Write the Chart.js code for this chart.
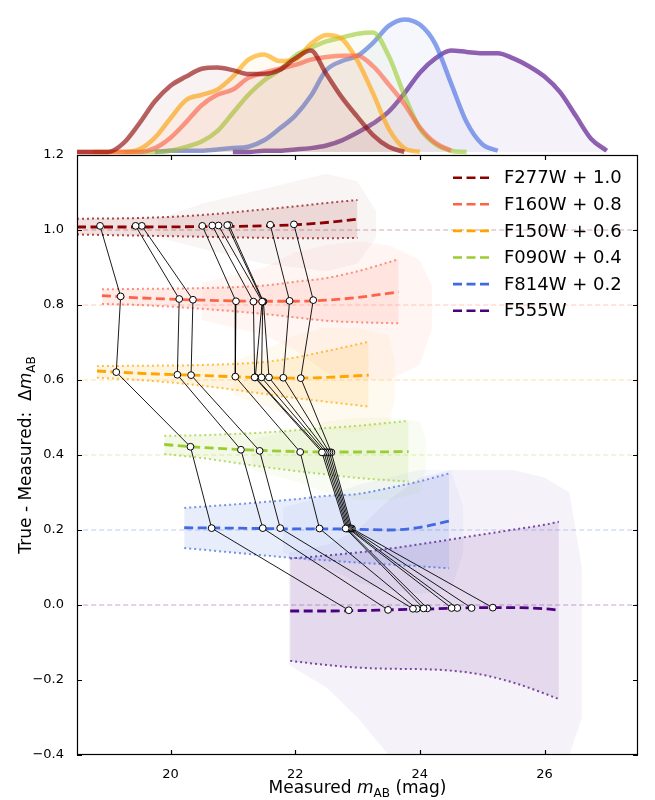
<!DOCTYPE html>
<html>
<head>
<meta charset="utf-8">
<script src="https://cdn.jsdelivr.net/npm/chart.js@4.4.0/dist/chart.umd.min.js"></script>
<style>
  body { margin: 0; background: #fff; }
  #wrap { position: relative; width: 655px; height: 800px; }
  canvas { position: absolute; left: 0; top: 0; }
</style>
</head>
<body>
<div id="wrap">
  <canvas id="main-chart" width="655" height="800"></canvas>
  <canvas id="kde-chart" width="655" height="155"></canvas>
</div>
<script>
const filters = ['F277W', 'F160W', 'F150W', 'F090W', 'F814W', 'F555W'];
const offsets = [1.0, 0.8, 0.6, 0.4, 0.2, 0.0];
const legendLabels = ['F277W + 1.0', 'F160W + 0.8', 'F150W + 0.6', 'F090W + 0.4', 'F814W + 0.2', 'F555W'];
const magTicks = [20, 22, 24, 26];
const deltaTicks = [-0.4, -0.2, 0.0, 0.2, 0.4, 0.6, 0.8, 1.0, 1.2];
const refSpan = [18.6, 27.5];

// running median of True - Measured and the scatter envelope (offset not included)
const binMag277 = [18.5, 19.5, 20.5, 21.5, 22.0, 22.5, 23.0];
const med277 = [0.008, 0.008, 0.009, 0.011, 0.014, 0.020, 0.029];
const hi277 = [0.030, 0.032, 0.040, 0.055, 0.063, 0.072, 0.080];
const lo277 = [-0.012, -0.015, -0.018, -0.021, -0.022, -0.022, -0.021];

const binMag160 = [18.9, 19.5, 20.5, 21.5, 22.0, 22.5, 23.0, 23.66];
const med160 = [0.025, 0.019, 0.013, 0.010, 0.010, 0.013, 0.020, 0.035];
const hi160 = [0.042, 0.043, 0.045, 0.052, 0.062, 0.072, 0.090, 0.122];
const lo160 = [0.003, 0.000, -0.010, -0.024, -0.033, -0.042, -0.046, -0.049];

const binMag150 = [18.82, 19.5, 20.5, 21.5, 22.0, 22.5, 23.18];
const med150 = [0.024, 0.018, 0.012, 0.006, 0.005, 0.007, 0.013];
const hi150 = [0.037, 0.038, 0.040, 0.048, 0.060, 0.077, 0.102];
const lo150 = [0.006, 0.000, -0.015, -0.037, -0.048, -0.058, -0.071];

const binMag090 = [19.9, 20.5, 21.5, 22.5, 23.0, 23.82];
const med090 = [0.028, 0.020, 0.012, 0.008, 0.008, 0.009];
const hi090 = [0.051, 0.053, 0.060, 0.072, 0.078, 0.091];
const lo090 = [0.003, -0.008, -0.032, -0.052, -0.061, -0.071];

const binMag814 = [20.22, 21.0, 22.0, 22.5, 23.0, 23.5, 24.0, 24.47];
const med814 = [0.006, 0.005, 0.003, 0.003, 0.002, 0.000, 0.007, 0.024];
const hi814 = [0.059, 0.068, 0.082, 0.091, 0.096, 0.112, 0.130, 0.151];
const lo814 = [-0.048, -0.060, -0.075, -0.081, -0.087, -0.092, -0.097, -0.102];

const binMag555 = [21.92, 22.5, 23.0, 23.5, 24.0, 24.5, 25.0, 25.5, 26.0, 26.23];
const med555 = [-0.016, -0.016, -0.015, -0.013, -0.011, -0.009, -0.007, -0.007, -0.010, -0.014];
const hi555 = [0.124, 0.132, 0.140, 0.150, 0.162, 0.175, 0.188, 0.201, 0.214, 0.222];
const lo555 = [-0.149, -0.160, -0.167, -0.170, -0.171, -0.175, -0.186, -0.207, -0.236, -0.251];

// rough extent of the individual measurements (with their error bars), offset not included
const hazeMag277 = [19.8, 20.5, 21.5, 22.5, 23.0, 23.3];
const hazeHi277 = [0.03, 0.07, 0.11, 0.15, 0.13, 0.05];
const hazeLo277 = [-0.02, -0.05, -0.09, -0.11, -0.09, -0.02];
const hazeMag160 = [20.5, 21.5, 22.0, 22.5, 23.0, 23.5, 24.0, 24.2];
const hazeHi160 = [0.06, 0.10, 0.14, 0.16, 0.17, 0.16, 0.12, 0.05];
const hazeLo160 = [-0.04, -0.08, -0.12, -0.18, -0.20, -0.20, -0.16, -0.06];
const hazeMag150 = [21.0, 21.5, 22.0, 22.5, 23.0, 23.5, 23.6];
const hazeHi150 = [0.05, 0.08, 0.12, 0.14, 0.14, 0.12, 0.05];
const hazeLo150 = [-0.04, -0.07, -0.10, -0.13, -0.14, -0.12, -0.05];
const hazeMag090 = [21.3, 22.0, 22.5, 23.0, 23.5, 24.0, 24.1];
const hazeHi090 = [0.04, 0.07, 0.09, 0.10, 0.10, 0.09, 0.04];
const hazeLo090 = [-0.04, -0.07, -0.10, -0.12, -0.12, -0.10, -0.04];
const hazeMag814 = [21.8, 22.5, 23.0, 23.5, 24.0, 24.5, 24.7];
const hazeHi814 = [0.06, 0.09, 0.12, 0.14, 0.16, 0.16, 0.06];
const hazeLo814 = [-0.06, -0.10, -0.14, -0.16, -0.17, -0.16, -0.06];
const hazeMag555 = [21.9, 22.5, 23.0, 23.5, 24.0, 24.5, 25.0, 25.5, 26.0, 26.4, 26.6];
const hazeHi555 = [0.14, 0.16, 0.20, 0.28, 0.34, 0.36, 0.36, 0.36, 0.34, 0.30, 0.10];
const hazeLo555 = [-0.16, -0.22, -0.30, -0.40, -0.40, -0.40, -0.40, -0.40, -0.40, -0.40, -0.30];

// ten objects followed through every filter
const objMag277 = [18.87, 19.44, 19.54, 20.51, 20.67, 20.77, 20.91, 20.94, 21.60, 21.98];
const objDm277 = [0.011, 0.011, 0.011, 0.011, 0.012, 0.012, 0.013, 0.013, 0.014, 0.015];
const objMag160 = [19.20, 20.14, 20.36, 21.05, 21.33, 21.47, 21.48, 21.49, 21.91, 22.29];
const objDm160 = [0.023, 0.016, 0.014, 0.010, 0.009, 0.009, 0.009, 0.009, 0.011, 0.013];
const objMag150 = [19.13, 20.11, 20.33, 21.04, 21.35, 21.36, 21.46, 21.58, 21.81, 22.09];
const objDm150 = [0.021, 0.014, 0.013, 0.009, 0.007, 0.007, 0.007, 0.007, 0.006, 0.005];
const objMag090 = [20.32, 21.13, 21.43, 22.08, 22.43, 22.46, 22.49, 22.52, 22.55, 22.58];
const objDm090 = [0.022, 0.014, 0.011, 0.008, 0.007, 0.007, 0.007, 0.007, 0.007, 0.007];
const objMag814 = [20.66, 21.48, 21.76, 22.39, 22.81, 22.83, 22.85, 22.87, 22.89, 22.91];
const objDm814 = [0.005, 0.005, 0.005, 0.004, 0.004, 0.004, 0.004, 0.004, 0.004, 0.004];
const objMag555 = [22.86, 23.49, 23.89, 23.95, 24.06, 24.12, 24.51, 24.60, 24.83, 25.17];
const objDm555 = [-0.014, -0.013, -0.010, -0.010, -0.009, -0.009, -0.008, -0.008, -0.008, -0.007];

// KDE of measured magnitudes (top panel)
const kdeMag = [18.5, 18.75, 19.0, 19.25, 19.5, 19.75, 20.0, 20.25, 20.5, 20.75, 21.0, 21.25, 21.5,
  21.75, 22.0, 22.25, 22.5, 22.75, 23.0, 23.25, 23.5, 23.75, 24.0, 24.25, 24.5, 24.75, 25.0,
  25.25, 25.5, 25.75, 26.0, 26.25, 26.5, 26.75, 27.0, 27.25, 27.5];
const kde277 = [0, 0, 0, 0.07, 0.22, 0.39, 0.51, 0.58, 0.64, 0.65, 0.63, 0.60, 0.60, 0.63, 0.72, 0.78,
  0.60, 0.42, 0.27, 0.13, 0.04, 0, null, null, null, null, null, null, null, null, null, null, null,
  null, null, null, null];
const kde160 = [0, 0, 0, 0, 0, 0.03, 0.11, 0.23, 0.36, 0.44, 0.48, 0.57, 0.61, 0.64, 0.67, 0.71, 0.73,
  0.74, 0.74, 0.66, 0.52, 0.37, 0.19, 0.07, 0.01, null, null, null, null, null, null, null, null,
  null, null, null, null];
const kde150 = [null, 0, 0, 0, 0.02, 0.11, 0.26, 0.40, 0.44, 0.48, 0.58, 0.71, 0.75, 0.70, 0.71, 0.83,
  0.90, 0.87, 0.70, 0.45, 0.18, 0.03, 0, null, null, null, null, null, null, null, null, null, null,
  null, null, null, null];
const kde090 = [null, null, null, 0, 0, 0, 0.01, 0.04, 0.08, 0.16, 0.30, 0.44, 0.55, 0.63, 0.74, 0.80,
  0.85, 0.88, 0.91, 0.92, 0.74, 0.44, 0.18, 0.06, 0.01, 0, null, null, null, null, null, null, null,
  null, null, null, null];
const kde814 = [null, null, null, null, null, 0, 0.01, 0.01, 0.01, 0.02, 0.03, 0.04, 0.09, 0.18, 0.28,
  0.43, 0.63, 0.70, 0.74, 0.84, 0.97, 1.02, 0.98, 0.83, 0.53, 0.23, 0.06, 0.01, null, null, null,
  null, null, null, null, null, null];
const kde555 = [null, null, null, null, null, null, null, null, null, null, 0, 0, 0.01, 0.01, 0.02,
  0.03, 0.05, 0.09, 0.15, 0.22, 0.31, 0.45, 0.61, 0.72, 0.78, 0.77, 0.76, 0.76, 0.72, 0.66, 0.58,
  0.46, 0.28, 0.10, 0.01, null, null];

const colors = ['#8b0000', '#ff6347', '#ffa500', '#9acd32', '#4169e1', '#4b0082'];
const bandAlpha = [0.12, 0.12, 0.12, 0.12, 0.12, 0.1];
const hazeAlpha = [0.04, 0.06, 0.06, 0.06, 0.05, 0.05];
const binMags = [binMag277, binMag160, binMag150, binMag090, binMag814, binMag555];
const meds = [med277, med160, med150, med090, med814, med555];
const his = [hi277, hi160, hi150, hi090, hi814, hi555];
const los = [lo277, lo160, lo150, lo090, lo814, lo555];
const hazeMags = [hazeMag277, hazeMag160, hazeMag150, hazeMag090, hazeMag814, hazeMag555];
const hazeHis = [hazeHi277, hazeHi160, hazeHi150, hazeHi090, hazeHi814, hazeHi555];
const hazeLos = [hazeLo277, hazeLo160, hazeLo150, hazeLo090, hazeLo814, hazeLo555];
const objMags = [objMag277, objMag160, objMag150, objMag090, objMag814, objMag555];
const objDms = [objDm277, objDm160, objDm150, objDm090, objDm814, objDm555];
const kdes = [kde277, kde160, kde150, kde090, kde814, kde555];

function rgba(hex, a) {
  const n = parseInt(hex.slice(1), 16);
  return `rgba(${n >> 16}, ${(n >> 8) & 255}, ${n & 255}, ${a})`;
}
function pts(xs, ys, off) {
  return xs.map((x, i) => ({ x: x, y: ys[i] == null ? null : ys[i] + off }));
}

const FONT = "'DejaVu Sans', 'Liberation Sans', sans-serif";

// ---- main panel datasets
const mainSets = [];
for (let j = 0; j < objMag277.length; j++) {
  mainSets.push({
    data: filters.map((f, i) => ({ x: objMags[i][j], y: offsets[i] + objDms[i][j] })),
    borderColor: '#000', borderWidth: 0.9, tension: 0, cubicInterpolationMode: 'default',
    pointRadius: 3.4, pointBackgroundColor: '#fff', pointBorderColor: '#000', pointBorderWidth: 1,
    order: 0
  });
}
filters.forEach((f, i) => {
  const c = colors[i];
  mainSets.push({
    data: pts(binMags[i], his[i], offsets[i]),
    borderColor: rgba(c, 0.7), borderWidth: 2, borderDash: [2, 3],
    backgroundColor: rgba(c, bandAlpha[i]), fill: '+1', order: 3
  });
  mainSets.push({
    data: pts(binMags[i], los[i], offsets[i]),
    borderColor: rgba(c, 0.7), borderWidth: 2, borderDash: [2, 3], fill: false, order: 3
  });
  mainSets.push({
    data: pts(binMags[i], meds[i], offsets[i]),
    borderColor: c, borderWidth: 2.8, borderDash: [9, 4.5], fill: false, order: 1
  });
  mainSets.push({
    data: refSpan.map(x => ({ x: x, y: offsets[i] })),
    borderColor: rgba(c, 0.35), borderWidth: 1, borderDash: [5, 3], fill: false, order: 4,
    cubicInterpolationMode: 'default'
  });
  mainSets.push({
    data: pts(hazeMags[i], hazeHis[i], offsets[i]),
    borderWidth: 0, borderColor: 'rgba(0,0,0,0)', backgroundColor: rgba(c, hazeAlpha[i]),
    fill: '+1', order: 5, cubicInterpolationMode: 'default', tension: 0
  });
  mainSets.push({
    data: pts(hazeMags[i], hazeLos[i], offsets[i]),
    borderWidth: 0, borderColor: 'rgba(0,0,0,0)', fill: false, order: 5,
    cubicInterpolationMode: 'default', tension: 0
  });
});

function drawRich(ctx, parts, cx, cy) {
  let w = 0;
  parts.forEach(p => { ctx.font = p[1]; w += ctx.measureText(p[0]).width; });
  let x = cx - w / 2;
  ctx.textAlign = 'left';
  ctx.textBaseline = 'alphabetic';
  parts.forEach(p => {
    ctx.font = p[1];
    ctx.fillText(p[0], x, cy + (p[2] || 0));
    x += ctx.measureText(p[0]).width;
  });
}

const framePlugin = {
  id: 'frame',
  afterDraw(chart) {
    const { ctx, chartArea: a, scales: { x, y } } = chart;
    ctx.save();
    ctx.strokeStyle = '#000';
    ctx.lineWidth = 1.2;
    ctx.setLineDash([]);
    ctx.strokeRect(a.left + 0.5, a.top + 0.5, a.right - a.left - 1, a.bottom - a.top - 1);
    ctx.beginPath();
    const tl = 5;
    x.ticks.forEach(t => {
      const px = Math.round(x.getPixelForValue(t.value)) + 0.5;
      ctx.moveTo(px, a.bottom); ctx.lineTo(px, a.bottom - tl);
      ctx.moveTo(px, a.top); ctx.lineTo(px, a.top + tl);
    });
    y.ticks.forEach(t => {
      const py = Math.round(y.getPixelForValue(t.value)) + 0.5;
      ctx.moveTo(a.left, py); ctx.lineTo(a.left + tl, py);
      ctx.moveTo(a.right, py); ctx.lineTo(a.right - tl, py);
    });
    ctx.stroke();

    // axis titles
    ctx.fillStyle = '#000';
    drawRich(ctx, [
      ['Measured ', '17px ' + FONT],
      ['m', 'italic 17px ' + FONT],
      ['AB', '12px ' + FONT, 3.5],
      [' (mag)', '17px ' + FONT]
    ], (a.left + a.right) / 2, 793);
    ctx.save();
    ctx.translate(31, (a.top + a.bottom) / 2);
    ctx.rotate(-Math.PI / 2);
    drawRich(ctx, [
      ['True - Measured:  \u0394', '17px ' + FONT],
      ['m', 'italic 17px ' + FONT],
      ['AB', '12px ' + FONT, 3.5]
    ], 0, 0);
    ctx.restore();

    // legend
    ctx.textBaseline = 'middle';
    ctx.font = '18px ' + FONT;
    legendLabels.forEach((lab, i) => {
      const ly = 177.7 + i * 26.6;
      ctx.strokeStyle = colors[i];
      ctx.lineWidth = 2.6;
      ctx.setLineDash([9, 4.5]);
      ctx.beginPath();
      ctx.moveTo(453, ly); ctx.lineTo(489, ly);
      ctx.stroke();
      ctx.fillStyle = '#000';
      ctx.textAlign = 'left';
      ctx.fillText(lab, 504, ly + 1);
    });
    ctx.restore();
  }
};

new Chart(document.getElementById('main-chart'), {
  type: 'line',
  data: { datasets: mainSets },
  options: {
    responsive: false,
    animation: false,
    events: [],
    layout: { padding: { left: 0, right: 17, top: 155, bottom: 0 } },
    elements: { point: { radius: 0 }, line: { cubicInterpolationMode: 'monotone' } },
    plugins: { legend: { display: false }, tooltip: { enabled: false } },
    scales: {
      x: {
        type: 'linear', min: 18.5, max: 27.5,
        grid: { display: false }, border: { display: false },
        afterBuildTicks: s => { s.ticks = magTicks.map(v => ({ value: v })); },
        afterFit: s => { s.height = 45; },
        ticks: { color: '#000', font: { family: FONT, size: 13 }, padding: 4, maxRotation: 0,
          callback: v => String(v) }
      },
      y: {
        type: 'linear', min: -0.4, max: 1.2,
        grid: { display: false }, border: { display: false },
        afterBuildTicks: s => { s.ticks = deltaTicks.map(v => ({ value: v })); },
        afterFit: s => { s.width = 77; },
        ticks: { color: '#000', font: { family: FONT, size: 13 }, padding: 5,
          callback: v => (v < -1e-9 ? '\u2212' : '') + Math.abs(v).toFixed(1) }
      }
    }
  },
  plugins: [framePlugin]
});

// ---- top panel: magnitude distributions
const kdeSets = filters.map((f, i) => ({
  data: kdeMag.map((m, k) => ({ x: m, y: kdes[i][k] })),
  borderColor: rgba(colors[i], 0.62),
  borderWidth: 4.5,
  backgroundColor: rgba(colors[i], 0.05),
  fill: 'origin',
  cubicInterpolationMode: 'monotone',
  pointRadius: 0,
  spanGaps: false
}));

new Chart(document.getElementById('kde-chart'), {
  type: 'line',
  data: { datasets: kdeSets },
  options: {
    responsive: false,
    animation: false,
    events: [],
    layout: { padding: { left: 77, right: 17, top: 0, bottom: 0 } },
    plugins: { legend: { display: false }, tooltip: { enabled: false } },
    scales: {
      x: { type: 'linear', min: 18.5, max: 27.5, display: false },
      y: { type: 'linear', min: -0.023, max: 1.169, display: false }
    }
  }
});
</script>
</body>
</html>
